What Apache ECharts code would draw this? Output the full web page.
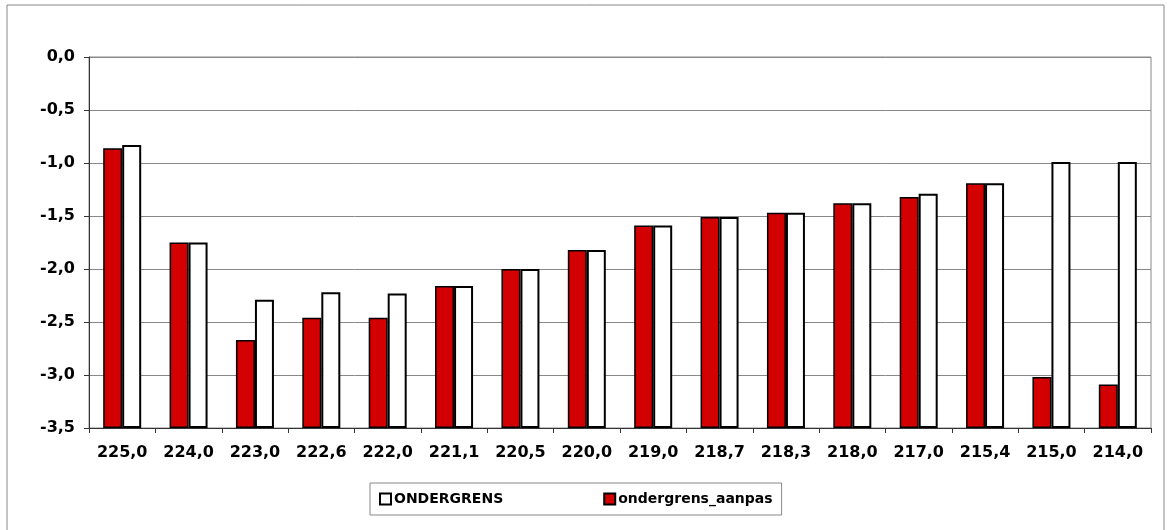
<!DOCTYPE html>
<html>
<head>
<meta charset="utf-8">
<script src="https://cdn.jsdelivr.net/npm/echarts@6/dist/echarts.min.js"></script>
<style>
html, body { margin: 0; padding: 0; background: #fff; }
#chart { width: 1169px; height: 530px; }
</style>
</head>
<body>
<div id="chart"></div>
<script>
var categories = ['225,0','224,0','223,0','222,6','222,0','221,1','220,5','220,0','219,0','218,7','218,3','218,0','217,0','215,4','215,0','214,0'];
var aanpas = [-0.86,-1.75,-2.67,-2.46,-2.46,-2.16,-2.00,-1.82,-1.59,-1.51,-1.47,-1.38,-1.32,-1.19,-3.02,-3.09];
var ondergrens = [-0.83,-1.75,-2.29,-2.22,-2.23,-2.16,-2.00,-1.82,-1.59,-1.51,-1.47,-1.38,-1.29,-1.19,-0.99,-0.99];

// bars grow up from the bottom of the axis (-3,5), like in Excel
var axisFloor = -3.5;
function lift(arr) {
	return arr.map(function (v) { return +(v - axisFloor).toFixed(3); });
}

var font = 'DejaVu Sans';
var chart = echarts.init(document.getElementById('chart'));
var option = {
	animation: false,
	backgroundColor: '#fff',
	graphic: [{
		type: 'rect',
		shape: { x: 7, y: 5, width: 1157, height: 540 },
		style: { fill: 'none', stroke: '#888', lineWidth: 1 },
		silent: true
	}],
	grid: {
		left: 89, right: 18, top: 57, bottom: 102,
		show: true, borderColor: '#888', borderWidth: 1
	},
	legend: {
		data: ['ONDERGRENS', 'ondergrens_aanpas'],
		left: 370, top: 483,
		padding: [9, 9],
		icon: 'rect',
		itemWidth: 11, itemHeight: 11, itemGap: 100,
		borderColor: '#888', borderWidth: 1,
		textStyle: { fontFamily: font, fontWeight: 'bold', fontSize: 14, color: '#000', padding: [0, 0, 0, -2] }
	},
	xAxis: {
		type: 'category',
		data: categories,
		axisLine: { onZero: false, lineStyle: { color: '#333', width: 1 } },
		axisTick: { show: true, length: 5, lineStyle: { color: '#333' } },
		axisLabel: { fontFamily: font, fontWeight: 'bold', fontSize: 16, color: '#000', margin: 17 }
	},
	yAxis: {
		type: 'value',
		min: 0, max: 3.5, interval: 0.5,
		axisLine: { show: true, lineStyle: { color: '#333', width: 1 } },
		axisTick: { show: true, length: 5, lineStyle: { color: '#333' } },
		splitLine: { lineStyle: { color: '#888', width: 1 } },
		axisLabel: {
			fontFamily: font, fontWeight: 'bold', fontSize: 16, color: '#000', margin: 14,
			formatter: function (v) { return (v + axisFloor).toFixed(1).replace('.', ','); }
		}
	},
	series: [
		{
			name: 'ondergrens_aanpas', type: 'bar', data: lift(aanpas),
			barWidth: 19, barGap: '0%',
			itemStyle: { color: '#d20000', borderColor: '#000', borderWidth: 1.5 }
		},
		{
			name: 'ONDERGRENS', type: 'bar', data: lift(ondergrens),
			barWidth: 19, barGap: '0%',
			itemStyle: { color: '#fff', borderColor: '#000', borderWidth: 2 }
		}
	]
};
chart.setOption(option);
</script>
</body>
</html>
